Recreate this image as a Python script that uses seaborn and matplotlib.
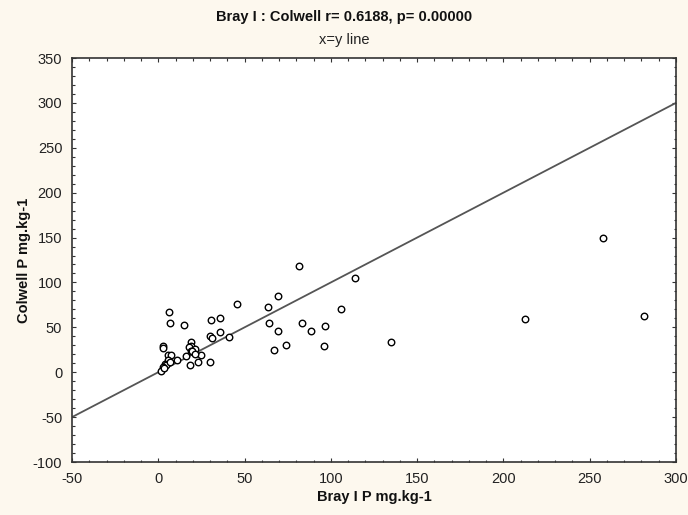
import matplotlib
matplotlib.use("Agg")
import matplotlib.pyplot as plt
import seaborn as sns
import pandas as pd
from matplotlib.ticker import MultipleLocator

bray = [6.0, 6.5, 14.9, 30.3, 35.5, 45.5, 63.5, 69.3, 64.0, 69.3, 67.0, 35.5, 30.1, 31.0,
        40.7, 30.1, 23.0, 18.3, 24.7, 15.8, 11.0, 19.1, 18.7, 17.7, 21.0, 18.7, 19.7, 2.7,
        2.7, 5.6, 7.5, 5.6, 3.7, 4.6, 2.7, 1.7, 6.5, 81.8, 114.0, 74.0, 83.0, 88.3, 96.6,
        96.0, 106.0, 134.8, 212.6, 281.4, 257.5, 21.5, 3.5]
colwell = [67.0, 55.0, 52.6, 58.0, 60.0, 76.0, 72.6, 84.4, 55.0, 45.5, 24.4, 44.8, 40.0, 38.5,
           38.9, 11.5, 11.5, 7.8, 18.9, 18.1, 13.3, 33.7, 29.0, 28.0, 26.0, 23.7, 23.7, 29.0,
           27.0, 19.6, 19.6, 14.0, 9.6, 7.8, 5.9, 1.5, 11.5, 118.5, 104.8, 30.7, 54.8, 45.5, 51.0,
           29.3, 70.7, 33.3, 59.3, 63.0, 150.0, 20.0, 5.0]
line_x = [-50, 300]
line_y = [-50, 300]

title_main = "Bray I : Colwell r= 0.6188, p= 0.00000"
title_sub = "x=y line"
xlabel = "Bray I P mg.kg-1"
ylabel = "Colwell P mg.kg-1"

sns.set_theme(style="white")
plt.rcParams['font.family'] = ['Liberation Sans', 'DejaVu Sans']
plt.rcParams['axes.unicode_minus'] = False

bg = '#FDF8EE'
fig = plt.figure(figsize=(6.88, 5.15), dpi=100, facecolor=bg)
ax = fig.add_axes([72/688, 1 - 462/515, (676 - 72)/688, (462 - 58)/515])
ax.set_facecolor('white')

df = pd.DataFrame({"bray": bray, "colwell": colwell})
dl = pd.DataFrame({"x": line_x, "y": line_y})

sns.lineplot(data=dl, x="x", y="y", ax=ax, color='#555555', linewidth=1.3)
sns.scatterplot(data=df, x="bray", y="colwell", ax=ax, marker='o', s=22,
                facecolor='white', edgecolor='black', linewidth=1.0, zorder=3)

ax.set_xlim(-50, 300)
ax.set_ylim(-100, 350)
ax.xaxis.set_major_locator(MultipleLocator(50))
ax.yaxis.set_major_locator(MultipleLocator(50))
ax.xaxis.set_minor_locator(MultipleLocator(10))
ax.yaxis.set_minor_locator(MultipleLocator(10))
ax.tick_params(which='both', direction='in', top=True, right=True, bottom=True, left=True,
               colors='#333333', labelcolor='#222222', labelsize=10.5, width=0.8)
ax.tick_params(which='major', length=3, pad=7)
ax.tick_params(which='minor', length=1.8)
for s in ax.spines.values():
    s.set_color('#333333')
    s.set_linewidth(1.2)

ax.set_xlabel(xlabel, fontsize=10.5, fontweight='bold', labelpad=3, color='#111111')
ax.set_ylabel(ylabel, fontsize=10.5, fontweight='bold', labelpad=1, color='#111111')

fig.text(0.5, 1 - 17/515, title_main, ha='center', va='center', fontsize=10.5,
         fontweight='bold', color='#111111')
fig.text(0.5, 1 - 40/515, title_sub, ha='center', va='center', fontsize=10.5, color='#222222')

fig.savefig("out.png", dpi=100, facecolor=bg)
